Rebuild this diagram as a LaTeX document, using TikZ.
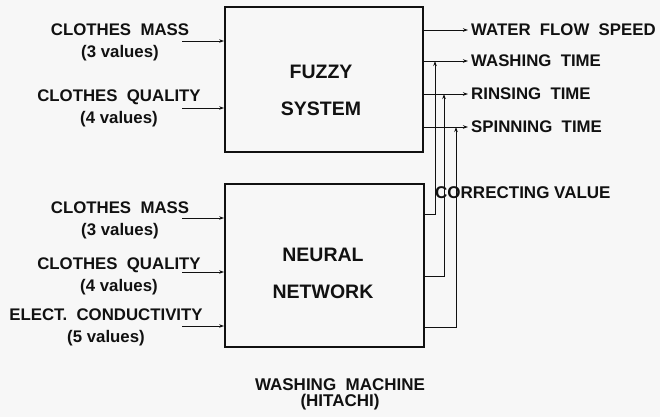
\documentclass[tikz,border=0pt]{standalone}
\usepackage{fontspec}
\setmainfont{Liberation Sans}
\usepackage{tikz}
\usetikzlibrary{arrows.meta,positioning,calc}
\definecolor{inkblack}{HTML}{111111}
\definecolor{paperwhite}{HTML}{F7F7F7}

\begin{document}
\begin{tikzpicture}[
    x=1pt, y=-1pt,
    block/.style={rectangle, draw=inkblack, line width=1.8pt, inner sep=0pt},
    blocktext/.style={align=center, font=\bfseries\fontsize{19.5}{37}\selectfont, text=inkblack},
    inlabel/.style={align=center, font=\bfseries\fontsize{16.8}{22}\selectfont, text=inkblack, inner sep=0pt},
    outlabel/.style={anchor=west, font=\bfseries\fontsize{16.8}{18}\selectfont, text=inkblack, inner sep=0pt},
    line/.style={draw=inkblack, line width=0.9pt, -{Stealth[length=5pt,width=3.5pt]}},
    feedback/.style={draw=inkblack, line width=0.9pt, -{Stealth[length=5pt,width=3.5pt]}}
]
\useasboundingbox[fill=paperwhite] (0,0) rectangle (660,417);

% Blocks
\node [block, minimum width=198pt, minimum height=145pt] (fuzzy) at (324,79.5) {};
\node [block, minimum width=199pt, minimum height=163pt] (neural) at (324.5,265.5) {};
\node [blocktext] (fuzzytxt) at (321,90) {FUZZY\\SYSTEM};
\node [blocktext] (neuraltxt) at (323,273) {NEURAL\\NETWORK};

% Inputs of the fuzzy system
\node [inlabel] (fmass) at (120,42) {CLOTHES\ \ MASS\\(3 values)};
\node [inlabel] (fqual) at (119,108) {CLOTHES\ \ QUALITY\\(4 values)};
\coordinate (fin1) at (182,41);
\coordinate (fin2) at (182,108);

% Inputs of the neural network
\node [inlabel] (nmass) at (120,220) {CLOTHES\ \ MASS\\(3 values)};
\node [inlabel] (nqual) at (119,276) {CLOTHES\ \ QUALITY\\(4 values)};
\node [inlabel] (ncond) at (106,327) {ELECT.\ \ CONDUCTIVITY\\(5 values)};
\coordinate (nin1) at (182,218);
\coordinate (nin2) at (182,272);
\coordinate (nin3) at (182,326);

% Outputs
\node [outlabel] (speed) at (471,30) {WATER\ \ FLOW\ \ SPEED};
\node [outlabel] (wash) at (471,61) {WASHING\ \ TIME};
\node [outlabel] (rinse) at (471,94) {RINSING\ \ TIME};
\node [outlabel] (spin) at (471,127) {SPINNING\ \ TIME};
\node [outlabel, font=\bfseries\fontsize{17}{18}\selectfont] (correct) at (435,193) {CORRECTING VALUE};

% Junctions of the correcting values
\coordinate (j1) at (435,61);
\coordinate (j2) at (444,94);
\coordinate (j3) at (456,127);

\node [inlabel, font=\bfseries\fontsize{17}{16}\selectfont] (machine) at (340,394) {WASHING\ \ MACHINE\\(HITACHI)};

% Connectors
\path [line] (fin1) -- (fuzzy.west |- fin1);
\path [line] (fin2) -- (fuzzy.west |- fin2);
\path [line] (nin1) -- (neural.west |- nin1);
\path [line] (nin2) -- (neural.west |- nin2);
\path [line] (nin3) -- (neural.west |- nin3);
\path [line] (fuzzy.east |- speed.west) -- ([xshift=-3pt]speed.west);
\path [line] (fuzzy.east |- wash.west) -- ([xshift=-3pt]wash.west);
\path [line] (fuzzy.east |- rinse.west) -- ([xshift=-3pt]rinse.west);
\path [line] (fuzzy.east |- spin.west) -- ([xshift=-3pt]spin.west);
\path [feedback] (neural.east |- 0,214) -| (j1);
\path [feedback] (neural.east |- 0,276) -| (j2);
\path [feedback] (neural.east |- 0,327) -| (j3);

\end{tikzpicture}
\end{document}
